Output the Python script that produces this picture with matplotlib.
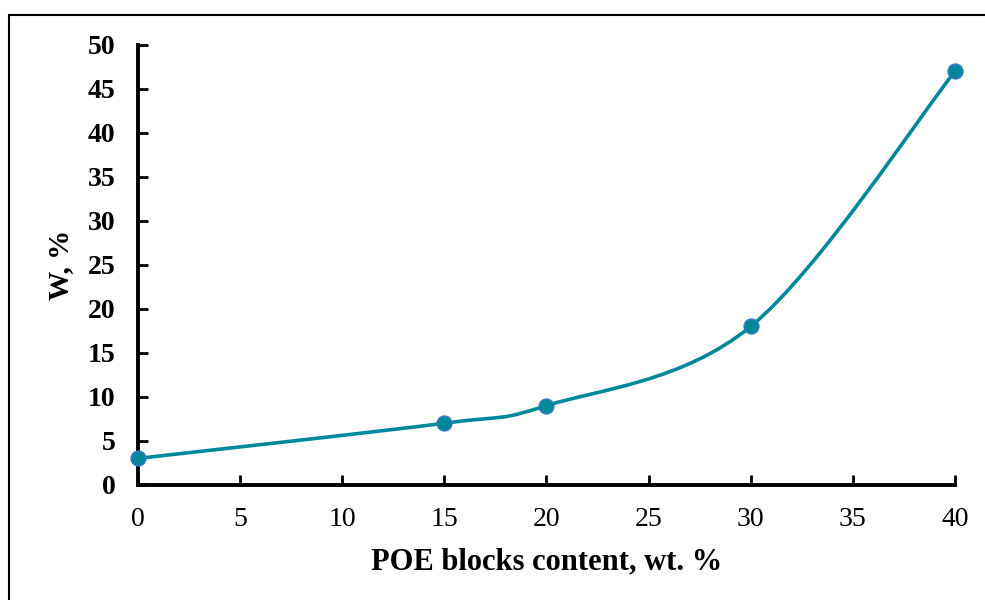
import numpy as np
import matplotlib
matplotlib.use("Agg")
import matplotlib.pyplot as plt
from matplotlib.path import Path
from matplotlib.patches import PathPatch, Rectangle

# data
poe_content = [0, 15, 20, 30, 40]
water_uptake = [3, 7, 9, 18, 47]
x_ticks = [0, 5, 10, 15, 20, 25, 30, 35, 40]
y_ticks = [0, 5, 10, 15, 20, 25, 30, 35, 40, 45, 50]

LINE_COLOR = "#00899A"
MARKER_FACE = "#00879A"
MARKER_EDGE = "#2E7DBE"

plt.rcParams["font.family"] = "Liberation Serif"


def smooth_path(xs, ys):
    # Catmull-Rom style bezier, like Excel's smoothed line
    pts = np.column_stack([xs, ys]).astype(float)
    n = len(pts)
    verts = [pts[0]]
    codes = [Path.MOVETO]
    for i in range(n - 1):
        p0 = pts[i - 1] if i > 0 else pts[i]
        p1 = pts[i]
        p2 = pts[i + 1]
        p3 = pts[i + 2] if i + 2 < n else pts[i + 1]
        c1 = p1 + (p2 - p0) / 6.0
        c2 = p2 - (p3 - p1) / 6.0
        verts += [c1, c2, p2]
        codes += [Path.CURVE4] * 3
    return Path(verts, codes)


fig = plt.figure(figsize=(9.85, 6), dpi=100)
ax = fig.add_axes([0.140, 0.192, 0.8295, 0.733])

patch = PathPatch(smooth_path(poe_content, water_uptake), facecolor="none",
                  edgecolor=LINE_COLOR, lw=2.6, zorder=2)
ax.add_patch(patch)
ax.plot(poe_content, water_uptake, linestyle="none", marker="o", ms=10.5,
        mfc=MARKER_FACE, mec=MARKER_EDGE, mew=1.2, clip_on=False, zorder=3)

ax.set_xlim(0, 40)
ax.set_ylim(0, 50)
ax.set_xticks(x_ticks)
ax.set_yticks(y_ticks)

for side in ["top", "right"]:
    ax.spines[side].set_visible(False)
for side in ["left", "bottom"]:
    ax.spines[side].set_linewidth(2.8)

ax.tick_params(axis="both", direction="in", length=7, width=2)
ax.tick_params(axis="x", pad=16, labelsize=20)
ax.tick_params(axis="y", pad=16, labelsize=20)
for lbl in ax.get_yticklabels():
    lbl.set_fontweight("bold")

ax.set_xlabel("POE blocks content, wt. %", fontsize=22, fontweight="bold", labelpad=11)
ax.set_ylabel("W, %", fontsize=21, fontweight="bold", labelpad=10)

# outer frame around the chart (runs off the right and bottom edge)
fig.patches.append(Rectangle((9 / 985, -0.05), 1.2, 1 - 15 / 600 + 0.05,
                             transform=fig.transFigure, fill=False,
                             edgecolor="black", lw=1.5))

fig.savefig("out.png", dpi=100)
